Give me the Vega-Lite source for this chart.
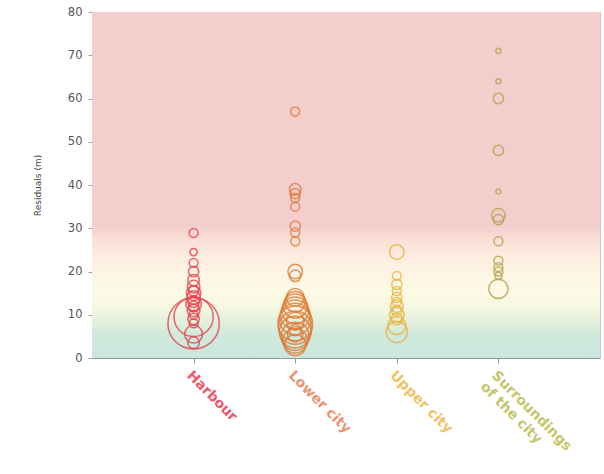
{
  "$schema": "https://vega.github.io/schema/vega-lite/v6.json",
  "autosize": "none",
  "width": 508,
  "height": 346,
  "padding": {"left": 92, "top": 12, "right": 4, "bottom": 116},
  "background": "white",
  "config": {
    "font": "DejaVu Sans",
    "view": {"stroke": "#c9c9c9", "strokeWidth": 1}
  },
  "datasets": {
    "bands": [
      {"lo": 30, "hi": 80, "band": "high"},
      {"lo": 0, "hi": 30, "band": "low"}
    ],
    "residuals": [
      {"zone": "Harbour", "res": 28.9, "n": 3},
      {"zone": "Harbour", "res": 24.5, "n": 2},
      {"zone": "Harbour", "res": 22.0, "n": 3},
      {"zone": "Harbour", "res": 20.0, "n": 4},
      {"zone": "Harbour", "res": 18.0, "n": 5},
      {"zone": "Harbour", "res": 16.5, "n": 6},
      {"zone": "Harbour", "res": 15.0, "n": 8},
      {"zone": "Harbour", "res": 14.0, "n": 7},
      {"zone": "Harbour", "res": 13.0, "n": 5},
      {"zone": "Harbour", "res": 12.0, "n": 4},
      {"zone": "Harbour", "res": 11.0, "n": 6},
      {"zone": "Harbour", "res": 10.0, "n": 3},
      {"zone": "Harbour", "res": 9.0, "n": 5},
      {"zone": "Harbour", "res": 8.0, "n": 3},
      {"zone": "Harbour", "res": 15.5, "n": 4},
      {"zone": "Harbour", "res": 12.5, "n": 9},
      {"zone": "Harbour", "res": 9.5, "n": 58},
      {"zone": "Harbour", "res": 8.0, "n": 100},
      {"zone": "Harbour", "res": 5.5, "n": 12},
      {"zone": "Harbour", "res": 3.5, "n": 5},
      {"zone": "Lower city", "res": 57.0, "n": 3},
      {"zone": "Lower city", "res": 39.0, "n": 5},
      {"zone": "Lower city", "res": 38.0, "n": 4},
      {"zone": "Lower city", "res": 37.0, "n": 3},
      {"zone": "Lower city", "res": 35.0, "n": 3},
      {"zone": "Lower city", "res": 30.5, "n": 4},
      {"zone": "Lower city", "res": 29.0, "n": 3},
      {"zone": "Lower city", "res": 27.0, "n": 3},
      {"zone": "Lower city", "res": 20.0, "n": 8},
      {"zone": "Lower city", "res": 19.0, "n": 5},
      {"zone": "Lower city", "res": 14.0, "n": 12},
      {"zone": "Lower city", "res": 13.0, "n": 16},
      {"zone": "Lower city", "res": 12.0, "n": 22},
      {"zone": "Lower city", "res": 11.0, "n": 27},
      {"zone": "Lower city", "res": 10.0, "n": 33},
      {"zone": "Lower city", "res": 9.0, "n": 38},
      {"zone": "Lower city", "res": 8.0, "n": 46},
      {"zone": "Lower city", "res": 7.0, "n": 42},
      {"zone": "Lower city", "res": 6.0, "n": 38},
      {"zone": "Lower city", "res": 5.0, "n": 30},
      {"zone": "Lower city", "res": 4.0, "n": 23},
      {"zone": "Lower city", "res": 3.0, "n": 17},
      {"zone": "Lower city", "res": 8.5, "n": 12},
      {"zone": "Lower city", "res": 6.5, "n": 5},
      {"zone": "Lower city", "res": 5.5, "n": 9},
      {"zone": "Upper city", "res": 24.5, "n": 8},
      {"zone": "Upper city", "res": 19.0, "n": 3},
      {"zone": "Upper city", "res": 17.0, "n": 4},
      {"zone": "Upper city", "res": 15.5, "n": 3},
      {"zone": "Upper city", "res": 14.0, "n": 4},
      {"zone": "Upper city", "res": 13.0, "n": 3},
      {"zone": "Upper city", "res": 12.0, "n": 6},
      {"zone": "Upper city", "res": 11.0, "n": 4},
      {"zone": "Upper city", "res": 10.0, "n": 8},
      {"zone": "Upper city", "res": 9.0, "n": 5},
      {"zone": "Upper city", "res": 7.5, "n": 12},
      {"zone": "Upper city", "res": 6.0, "n": 17},
      {"zone": "Surroundings of the city", "res": 71.0, "n": 1},
      {"zone": "Surroundings of the city", "res": 64.0, "n": 1},
      {"zone": "Surroundings of the city", "res": 60.0, "n": 4},
      {"zone": "Surroundings of the city", "res": 48.0, "n": 4},
      {"zone": "Surroundings of the city", "res": 38.5, "n": 1},
      {"zone": "Surroundings of the city", "res": 33.0, "n": 7},
      {"zone": "Surroundings of the city", "res": 32.0, "n": 4},
      {"zone": "Surroundings of the city", "res": 27.0, "n": 3},
      {"zone": "Surroundings of the city", "res": 22.5, "n": 3},
      {"zone": "Surroundings of the city", "res": 21.0, "n": 3},
      {"zone": "Surroundings of the city", "res": 20.0, "n": 3},
      {"zone": "Surroundings of the city", "res": 19.0, "n": 2},
      {"zone": "Surroundings of the city", "res": 16.0, "n": 14}
    ]
  },
  "layer": [
    {
      "data": {"name": "bands"},
      "transform": [{"filter": "datum.band == 'high'"}],
      "mark": {"type": "rect", "color": "#f4cdcd"},
      "encoding": {
        "y": {"field": "lo", "type": "quantitative", "scale": {"domain": [0, 80], "nice": false}},
        "y2": {"field": "hi"}
      }
    },
    {
      "data": {"name": "bands"},
      "transform": [{"filter": "datum.band == 'low'"}],
      "mark": {
        "type": "rect",
        "color": {
          "gradient": "linear",
          "x1": 0, "y1": 0, "x2": 0, "y2": 1,
          "stops": [
            {"offset": 0.0, "color": "#f4cfcd"},
            {"offset": 0.08, "color": "#f9dfd6"},
            {"offset": 0.2, "color": "#fcebdf"},
            {"offset": 0.35, "color": "#fdf5e4"},
            {"offset": 0.5, "color": "#fcfae6"},
            {"offset": 0.62, "color": "#f5f7e0"},
            {"offset": 0.72, "color": "#e2f0dc"},
            {"offset": 0.82, "color": "#d0e9dc"},
            {"offset": 1.0, "color": "#cae6dc"}
          ]
        }
      },
      "encoding": {
        "y": {"field": "lo", "type": "quantitative"},
        "y2": {"field": "hi"}
      }
    },
    {
      "data": {"name": "residuals"},
      "mark": {"type": "point", "shape": "circle", "filled": false, "strokeWidth": 1.5, "opacity": 0.8},
      "encoding": {
        "x": {
          "field": "zone",
          "type": "nominal",
          "sort": ["Harbour", "Lower city", "Upper city", "Surroundings of the city"],
          "scale": {"type": "point", "padding": 1},
          "axis": {
            "title": null,
            "labelAngle": 45,
            "labelAlign": "left",
            "labelBaseline": "top",
            "labelFontSize": 14,
            "labelFontWeight": "bold",
            "labelPadding": 5,
            "labelExpr": "datum.value == 'Surroundings of the city' ? ['Surroundings', 'of the city'] : datum.value",
            "labelColor": {
              "condition": [
                {"test": "datum.value == 'Harbour'", "value": "#ea5a6c"},
                {"test": "datum.value == 'Lower city'", "value": "#eb9470"},
                {"test": "datum.value == 'Upper city'", "value": "#f1c265"},
                {"test": "true", "value": "#c4c66c"}
              ],
              "value": "#c4c66c"
            },
            "domainColor": "#8b9a9a",
            "tickColor": "#8b9a9a",
            "tickSize": 5
          }
        },
        "y": {
          "field": "res",
          "type": "quantitative",
          "scale": {"domain": [0, 80], "nice": false},
          "axis": {
            "title": "Residuals (m)",
            "titleFontSize": 9,
            "titleFontWeight": "normal",
            "titleColor": "#444444",
            "titlePadding": 25,
            "values": [0, 10, 20, 30, 40, 50, 60, 70, 80],
            "labelFontSize": 11.5,
            "labelColor": "#555555",
            "labelPadding": 6,
            "grid": false,
            "domainColor": "#9aa4a8",
            "tickColor": "#9aa4a8",
            "tickSize": 4
          }
        },
        "size": {
          "field": "n",
          "type": "quantitative",
          "scale": {"domain": [0, 100], "range": [0, 2640], "zero": true},
          "legend": null
        },
        "color": {
          "field": "zone",
          "type": "nominal",
          "scale": {
            "domain": ["Harbour", "Lower city", "Upper city", "Surroundings of the city"],
            "range": ["#e8404f", "#e07a34", "#e9b440", "#b5a24c"]
          },
          "legend": null
        }
      }
    }
  ]
}
